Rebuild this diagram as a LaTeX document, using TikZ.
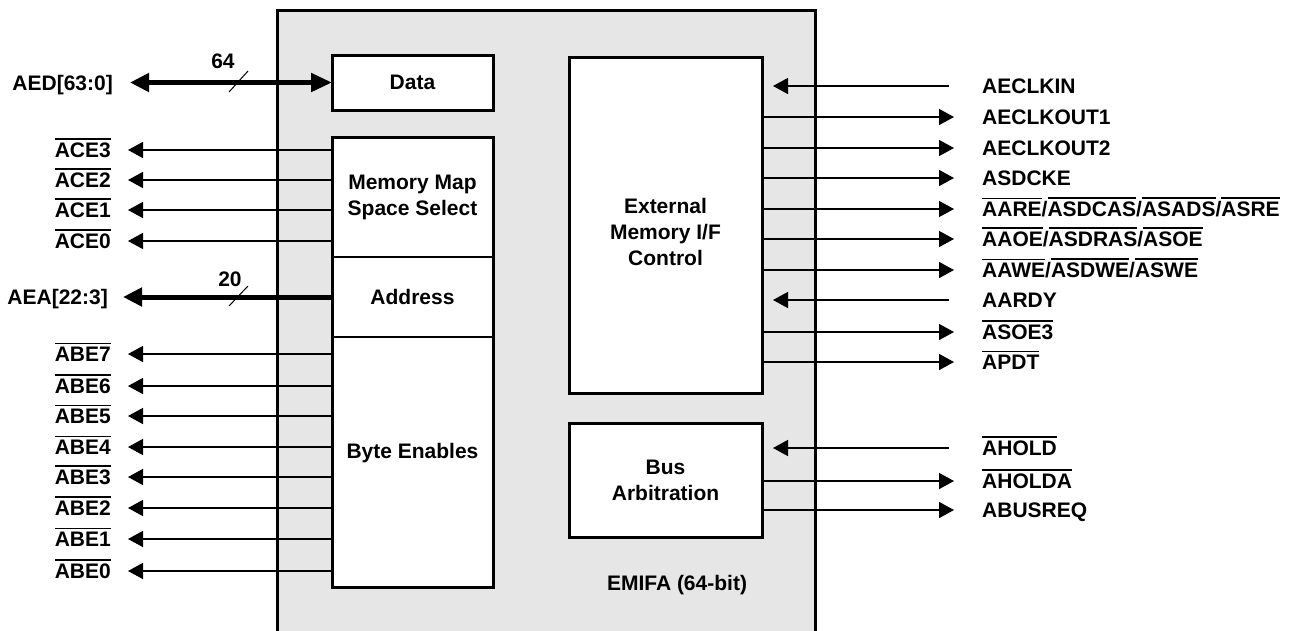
\documentclass[tikz,border=0pt]{standalone}
\usepackage{fontspec}
\setmainfont{Liberation Sans}
\usetikzlibrary{arrows.meta,calc}
\tikzset{>={Triangle[length=15pt,width=16pt]}}
\definecolor{emifagray}{HTML}{E6E6E6}
\newcommand{\nbar}[1]{\leavevmode\vbox{\hrule height 1.2pt\kern 3.2pt\hbox{#1}}}

\begin{document}
\begin{tikzpicture}[x=1pt,y=-1pt,
  font=\fontsize{21}{26}\selectfont\bfseries,
  blk/.style={draw,line width=3pt,fill=white,inner sep=0pt,outer sep=0pt,align=center},
  sig/.style={line width=1.5pt},
  bus/.style={line width=5pt,{Triangle[length=19pt,width=18pt]}-{Triangle[length=21pt,width=18pt]}},
  pin/.style={inner sep=0pt,text height=15pt,text depth=0pt}]
\useasboundingbox (0,0) rectangle (1290,630);
% module frame
\node[blk,fill=emifagray,anchor=north west,minimum width=538,minimum height=622] (emifa) at (277,10) {};
\node (emifatxt) at (677,585) {EMIFA (64-bit)};
% inner blocks
\node[blk,anchor=north west,minimum width=161,minimum height=55] (data) at (332,55) {Data};
\node[blk,anchor=north west,minimum width=161,minimum height=450] (mem) at (332,137) {};
\draw[sig] (mem.west |- 0,257) -- (mem.east |- 0,257);
\draw[sig] (mem.west |- 0,337) -- (mem.east |- 0,337);
\node[align=center] (mms) at (412.5,197) {Memory Map\\Space Select};
\node (addr) at (412.5,297) {Address};
\node (bytes) at (412.5,453) {Byte Enables};
\node[blk,anchor=north west,minimum width=193,minimum height=336] (ext) at (569,57) {};
\node[align=center] (exttxt) at (665.5,232) {External\\Memory I/F\\Control};
\node[blk,anchor=north west,minimum width=193,minimum height=114] (arb) at (569,423) {Bus\\Arbitration};

% buses
\node[pin,anchor=east] (aed) at (113,82.5) {AED[63:0]};
\draw[bus] ($(aed.east)+(17,0)$) -- (data.west |- aed.east);
\draw[line width=1pt] (229,92) -- (248,71);
\node (w64) at (223,61) {64};
\node[pin,anchor=east] (aea) at (108,297) {AEA[22:3]};
\draw[bus,-{Triangle[length=19pt,width=18pt]}] (mem.west |- aea.east) -- ($(aea.east)+(15,0)$);
\draw[line width=1pt] (229,306) -- (248,286);
\node (w20) at (230,279) {20};

% left side signals
\foreach \n/\y/\t in {ace3/150/ACE3,ace2/180/ACE2,ace1/210/ACE1,ace0/241/ACE0,
  abe7/354/ABE7,abe6/386/ABE6,abe5/416/ABE5,abe4/447/ABE4,
  abe3/477/ABE3,abe2/508/ABE2,abe1/539/ABE1,abe0/571/ABE0}{
  \node[pin,anchor=east] (\n) at (111,\y) {\nbar{\t}};
  \draw[sig,->] (mem.west |- \n.east) -- ($(\n.east)+(17,0)$);
}

% right side outputs
\foreach \n/\y/\t in {clko1/117/AECLKOUT1,clko2/148/AECLKOUT2,cke/178/ASDCKE,
  are/209/{\nbar{AARE}/\nbar{ASDCAS}/\nbar{ASADS}/\nbar{ASRE}},
  aoe/239/{\nbar{AAOE}/\nbar{ASDRAS}/\nbar{ASOE}},
  awe/270/{\nbar{AAWE}/\nbar{ASDWE}/\nbar{ASWE}},
  soe/332/{\nbar{ASOE3}},pdt/362/{\nbar{APDT}}}{
  \node[pin,anchor=west] (\n) at (982,\y) {\t};
  \draw[sig,->] (ext.east |- \n.west) -- ($(\n.west)+(-28,0)$);
}
\foreach \n/\y/\t in {holda/481/{\nbar{AHOLDA}},busreq/510/ABUSREQ}{
  \node[pin,anchor=west] (\n) at (982,\y) {\t};
  \draw[sig,->] (arb.east |- \n.west) -- ($(\n.west)+(-28,0)$);
}

% right side inputs
\foreach \n/\y/\t in {clkin/86/AECLKIN,ardy/300/AARDY}{
  \node[pin,anchor=west] (\n) at (982,\y) {\t};
  \draw[sig,<-] ($(ext.east |- \n.west)+(11,0)$) -- ($(\n.west)+(-33,0)$);
}
\node[pin,anchor=west] (hold) at (982,448) {\nbar{AHOLD}};
\draw[sig,<-] ($(arb.east |- hold.west)+(11,0)$) -- ($(hold.west)+(-33,0)$);
\end{tikzpicture}
\end{document}
